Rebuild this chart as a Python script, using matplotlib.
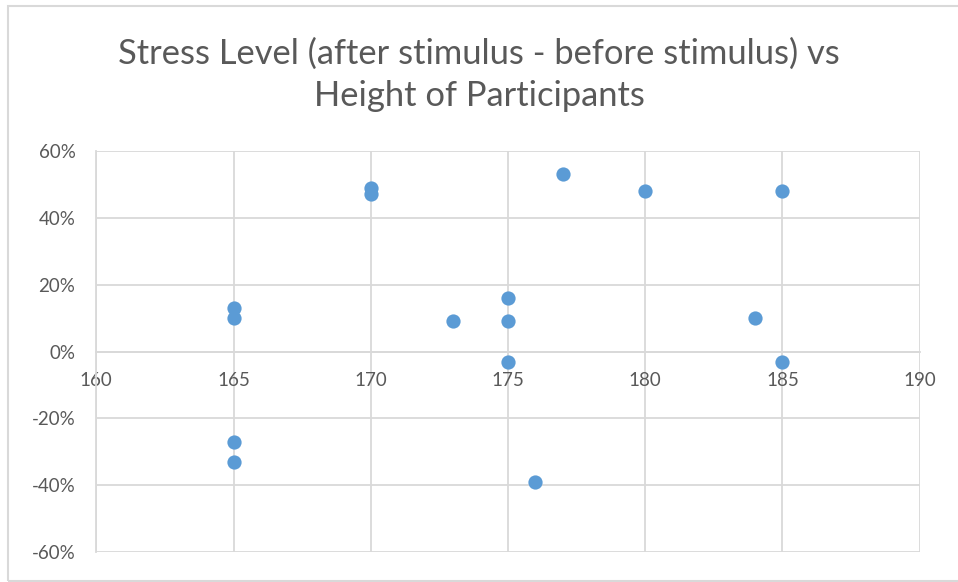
import matplotlib.pyplot as plt
from matplotlib.patches import Rectangle
from matplotlib.ticker import PercentFormatter

# height (cm) and change in stress level (%) per participant
heights = [165, 165, 165, 165, 170, 170, 173, 175, 175, 175, 176, 177, 180, 184, 185, 185]
stress_change = [13, 10, -27, -33, 49, 47, 9, 16, 9, -3, -39, 53, 48, 10, 48, -3]

title = "Stress Level (after stimulus - before stimulus) vs\nHeight of Participants"
text_color = "#595959"
grid_color = "#d9d9d9"
point_color = "#5b9bd5"

plt.rcParams["font.family"] = ["Lato", "DejaVu Sans"]
plt.rcParams["axes.unicode_minus"] = False

fig = plt.figure(figsize=(9.58, 5.82), dpi=100)
ax = fig.add_axes([0.1005, 0.0515, 0.8595, 0.689])

ax.scatter(heights, stress_change, s=105, color=point_color, zorder=3, linewidths=0)

ax.set_xlim(160, 190)
ax.set_ylim(-60, 60)
ax.set_xticks(range(160, 191, 5))
ax.set_yticks(range(-60, 61, 20))
ax.yaxis.set_major_formatter(PercentFormatter(decimals=0))

ax.grid(True, color=grid_color, linewidth=1.3, zorder=0)
ax.set_axisbelow(True)

# x axis crosses at 0, labels sit below it
ax.spines["bottom"].set_position(("data", 0))
for side in ["top", "right"]:
    ax.spines[side].set_visible(False)
for side in ["bottom", "left"]:
    ax.spines[side].set_color(grid_color)
    ax.spines[side].set_linewidth(1.3)

ax.tick_params(length=0, labelsize=13.5, colors=text_color, pad=15)

fig.text(0.5, 0.871, title, ha="center", va="center", fontsize=24.8,
         color=text_color, linespacing=1.4)

# chart-area frame
fig.patches.append(Rectangle((8 / 958, 1 / 582), 1.2, 575 / 582,
                             transform=fig.transFigure, fill=False,
                             edgecolor=grid_color, linewidth=1.5))

fig.savefig("out.png", dpi=100, facecolor="white")
